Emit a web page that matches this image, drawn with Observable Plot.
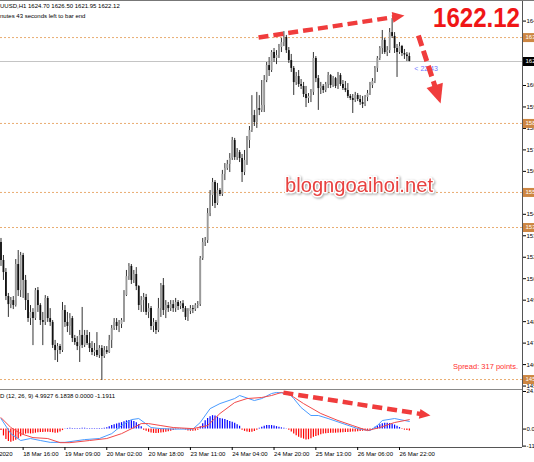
<!DOCTYPE html>
<html>
<head>
<meta charset="utf-8">
<script src="https://cdn.jsdelivr.net/npm/d3@7"></script>
<script src="https://cdn.jsdelivr.net/npm/@observablehq/plot@0.6"></script>
<style>
html,body{margin:0;padding:0;background:#fff;}
#wrap{position:relative;width:534px;height:462px;overflow:hidden;background:#fff;}
#wrap svg{position:absolute;left:0;}
g[aria-label="annot"]{filter:drop-shadow(1.5px 2px 1.2px rgba(0,0,0,0.35));}
</style>
</head>
<body>
<div id="wrap"></div>
<script>
// ---------- DATA (XAUUSD H1) ----------
const open = [1527.7,1518.3,1512.0,1499.5,1495.3,1497.4,1494.8,1516.2,1502.6,1520.9,1507.9,1497.4,1488.0,1491.2,1488.0,1502.6,1494.8,1487.0,1486.0,1498.5,1488.0,1486.0,1474.0,1471.3,1473.4,1471.3,1492.2,1486.0,1483.9,1488.0,1477.6,1475.5,1473.4,1479.2,1474.0,1479.2,1475.0,1472.4,1470.3,1471.3,1468.7,1472.4,1468.2,1471.3,1470.3,1476.6,1482.8,1486.0,1483.9,1484.9,1487.0,1500.0,1509.9,1515.2,1507.9,1511.0,1504.7,1494.8,1497.4,1499.0,1491.2,1493.2,1483.9,1486.0,1481.8,1493.2,1505.2,1492.2,1494.8,1493.2,1495.3,1493.2,1496.4,1494.3,1495.8,1493.2,1488.6,1491.7,1493.2,1492.7,1494.8,1495.3,1519.3,1527.7,1528.7,1542.8,1552.2,1559.0,1548.0,1554.8,1552.7,1563.2,1566.3,1568.4,1571.5,1580.9,1572.0,1574.6,1571.5,1564.2,1570.5,1580.9,1586.1,1593.9,1590.3,1597.6,1596.6,1599.2,1612.2,1620.0,1617.4,1626.8,1623.7,1625.2,1629.4,1632.0,1634.6,1627.8,1622.6,1618.5,1611.1,1614.3,1610.1,1609.1,1604.9,1602.8,1603.9,1606.0,1623.7,1613.2,1608.0,1609.1,1607.0,1610.1,1614.8,1609.6,1613.2,1609.1,1614.8,1610.1,1608.0,1607.0,1603.9,1602.8,1601.8,1604.4,1602.3,1600.7,1599.7,1603.3,1605.4,1609.6,1611.7,1618.5,1623.7,1628.9,1633.1,1626.8,1627.8,1637.2,1635.2,1628.9,1626.8,1629.9,1626.3,1625.5,1624.70];
const high = [1529.8,1520.9,1514.1,1501.1,1499.0,1499.5,1518.8,1523.5,1522.5,1522.0,1510.5,1501.1,1494.8,1493.2,1503.7,1504.2,1495.8,1491.2,1500.0,1499.5,1493.2,1487.0,1476.6,1475.0,1474.5,1496.4,1494.8,1491.2,1490.6,1489.1,1479.2,1478.6,1481.8,1493.8,1481.8,1481.8,1480.7,1476.0,1475.0,1480.7,1473.9,1473.9,1473.4,1473.4,1479.2,1484.4,1488.0,1488.0,1487.0,1488.0,1502.6,1513.1,1516.7,1516.2,1513.1,1514.6,1505.2,1499.5,1501.1,1500.6,1495.8,1494.3,1488.0,1487.0,1498.5,1506.3,1508.9,1497.4,1496.4,1497.4,1497.4,1498.5,1497.4,1496.9,1497.4,1494.3,1493.2,1494.8,1494.8,1495.8,1496.9,1520.4,1529.8,1530.3,1545.4,1554.8,1561.1,1560.0,1558.5,1555.8,1565.3,1568.9,1570.5,1574.1,1582.5,1582.0,1576.7,1575.7,1573.6,1575.7,1583.0,1588.2,1604.3,1596.6,1606.0,1604.3,1612.2,1614.8,1621.6,1624.2,1627.8,1628.9,1627.8,1631.0,1634.1,1637.7,1635.7,1629.4,1625.8,1619.5,1616.4,1617.4,1612.7,1611.2,1609.1,1605.4,1607.5,1626.8,1624.7,1614.8,1611.2,1610.1,1611.2,1616.4,1615.3,1614.3,1613.8,1616.4,1615.8,1612.2,1611.7,1610.6,1604.9,1604.9,1606.0,1605.4,1604.4,1603.9,1604.4,1607.0,1611.2,1613.2,1619.5,1624.7,1629.9,1638.3,1634.1,1629.9,1639.3,1644.5,1637.2,1631.0,1632.0,1630.5,1628.4,1626.8,1626.50];
const low = [1515.2,1507.9,1497.4,1488.6,1493.2,1492.7,1494.0,1499.5,1499.0,1498.5,1492.2,1486.0,1484.4,1473.9,1487.0,1491.2,1484.4,1473.9,1484.4,1486.0,1483.9,1472.4,1466.1,1465.1,1469.3,1470.3,1483.4,1480.7,1479.2,1475.5,1474.0,1471.3,1465.1,1472.4,1472.9,1474.0,1470.3,1468.7,1468.2,1467.7,1467.2,1455.7,1467.2,1469.3,1469.8,1472.4,1481.8,1481.8,1480.7,1482.8,1486.0,1499.5,1507.9,1505.8,1506.3,1502.6,1492.2,1491.2,1491.2,1489.6,1488.0,1481.8,1480.7,1479.7,1480.7,1488.6,1489.6,1488.0,1491.2,1491.7,1491.2,1491.2,1492.2,1492.7,1491.2,1487.0,1486.5,1490.1,1490.6,1491.7,1493.2,1494.3,1518.3,1525.6,1527.2,1541.2,1546.5,1545.4,1547.0,1551.7,1551.7,1560.0,1565.3,1564.2,1570.5,1570.5,1570.5,1569.4,1559.0,1562.6,1567.9,1576.7,1585.1,1588.2,1587.2,1593.9,1595.5,1595.5,1611.1,1614.3,1616.4,1621.6,1620.5,1623.7,1626.8,1629.9,1626.3,1621.1,1616.4,1604.4,1609.6,1608.6,1607.5,1603.3,1598.1,1600.2,1600.7,1604.4,1611.1,1596.6,1604.9,1605.4,1605.9,1608.0,1608.0,1608.6,1608.0,1607.5,1609.1,1607.0,1605.9,1602.8,1601.8,1595.0,1600.7,1601.2,1599.2,1597.6,1598.6,1601.2,1604.4,1608.0,1610.6,1616.4,1622.6,1625.8,1625.8,1624.7,1626.3,1634.1,1626.3,1613.8,1625.8,1624.7,1623.2,1622.1,1621.95];
const close = [1518.3,1512.0,1499.5,1495.3,1497.4,1494.8,1516.2,1502.6,1520.9,1507.9,1497.4,1488.0,1491.2,1488.0,1502.6,1494.8,1487.0,1486.0,1498.5,1488.0,1486.0,1474.0,1471.3,1473.4,1471.3,1492.2,1486.0,1483.9,1488.0,1477.6,1475.5,1473.4,1479.2,1474.0,1479.2,1475.0,1472.4,1470.3,1471.3,1468.7,1472.4,1468.2,1471.3,1470.3,1476.6,1482.8,1486.0,1483.9,1484.9,1487.0,1500.0,1509.9,1515.2,1507.9,1511.0,1504.7,1494.8,1497.4,1499.0,1491.2,1493.2,1483.9,1486.0,1481.8,1493.2,1505.2,1492.2,1494.8,1493.2,1495.3,1493.2,1496.4,1494.3,1495.8,1493.2,1488.6,1491.7,1493.2,1492.7,1494.8,1495.3,1519.3,1527.7,1528.7,1542.8,1552.2,1559.0,1548.0,1554.8,1552.7,1563.2,1566.3,1568.4,1571.5,1580.9,1572.0,1574.6,1571.5,1564.2,1570.5,1580.9,1586.1,1593.9,1590.3,1597.6,1596.6,1599.2,1612.2,1620.0,1617.4,1626.8,1623.7,1625.2,1629.4,1632.0,1634.6,1627.8,1622.6,1618.5,1611.1,1614.3,1610.1,1609.1,1604.9,1602.8,1603.9,1606.0,1623.7,1613.2,1608.0,1609.1,1607.0,1610.1,1614.8,1609.6,1613.2,1609.1,1614.8,1610.1,1608.0,1607.0,1603.9,1602.8,1601.8,1604.4,1602.3,1600.7,1599.7,1603.3,1605.4,1609.6,1611.7,1618.5,1623.7,1628.9,1633.1,1626.8,1627.8,1637.2,1635.2,1628.9,1626.8,1629.9,1626.3,1625.5,1624.7,1622.12];

// MACD histogram (one value per bar)
const histogram = [-1.0,-4.5,-6.8,-8.2,-8.7,-8.0,-7.3,-6.5,-5.0,-3.8,-3.3,-3.0,-3.2,-3.0,-2.7,-2.4,-2.2,-2.2,-2.1,-2.1,-2.2,-2.4,-2.8,-2.6,-2.0,-1.0,
 0.2,0.4,0.5,0.4,0.3,0.3,0.4,0.5,0.5,0.4,0.3,0.3,0.3,0.3,0.4,0.3,0.5,0.8,
 1.5,2.3,2.9,3.4,3.8,4.2,4.8,5.4,5.6,5.4,5.0,4.2,3.0,1.5,
 -0.8,-1.5,-2.1,-2.6,-2.8,-2.9,-2.8,-2.6,-2.4,-2.1,-1.8,-1.4,-1.0,
 -0.5,-0.3,-0.2,-0.3,-0.6,
 -1.2,-1.4,-1.5,-1.3,-0.8,
 1.5,3.5,5.5,7.0,8.0,8.8,8.5,7.8,7.0,6.6,6.2,5.6,5.0,4.5,3.8,2.8,1.8,
 -0.8,-1.5,-2.0,-2.2,-2.1,-1.6,-0.8,
 0.5,1.2,1.8,2.3,2.4,2.3,2.0,1.6,1.2,0.8,0.5,0.2,
 -0.8,-2.0,-3.3,-4.3,-5.4,-6.0,-6.6,-7.1,-7.0,-6.3,-5.4,-4.8,-4.3,-3.8,-3.3,-3.1,-2.9,-2.8,-2.8,-2.7,-2.6,-2.5,-2.4,-2.3,-2.2,-2.1,-2.0,-1.9,-1.8,-1.6,-1.4,-1.2,-1.0,-0.7,
 0.3,1.2,2.0,2.9,3.5,3.8,3.8,3.6,3.2,2.6,1.8,1.0,
 -0.3,-0.7,-1.0,-1.1911];
// MACD main line (light blue) and signal line (red), read at bar indices
const macdIdx = [0,4,8,12,16,20,26,34,40,45,49,53,56,61,65,70,78,81,85,89,95,97,103,106,110,112,117,119,122,126,129,133,139,145,150,153,155,160,166];
const macdVal = [6.9,-3.0,-7.5,-6.2,-7.5,-8.7,-8.7,-6.9,-6.2,-3.0,2.3,6.2,6.9,1.0,0.3,0,0,4.3,13.4,16.7,20.0,22.0,18.7,20.0,23.3,24.0,23.3,20.0,14.1,8.9,8.9,6.9,3.6,0.3,-1.0,2.3,5.6,6.9,4.9927];
const sigIdx = [0,4,8,13,19,24,28,36,43,49,54,57,60,65,70,78,84,89,95,100,106,110,114,118,123,130,137,143,149,154,160,166];
const sigVal = [7.5,1.0,-3.0,-5.6,-6.2,-8.9,-8.9,-7.5,-6.2,-3.0,1.0,3.6,3.6,2.3,1.0,0.3,2.3,10.2,17.4,20.0,20.7,22.0,24.0,22.0,16.7,10.2,5.6,2.3,-1.0,1.0,4.3,6.1838];

// axes (grid labels hidden behind price boxes are left out, as in the terminal)
const yTicks = [1643.20,1609.60,1598.40,1587.20,1576.00,1564.80,1542.40,1531.20,1520.00,1508.80,1497.60,1486.40,1475.20,1464.00,1452.80];
const levels = [1634.6,1589.8,1553.8,1535.5,1456.2];
const macdTicks = [24.6315,0,-11.1627];
const timeIdx = [-9,9,26,43,60,77,94,111,128,145,162];
const timeLabels = ["17 Mar 2020","18 Mar 16:00","19 Mar 09:00","20 Mar 02:00","20 Mar 18:00","23 Mar 11:00","24 Mar 04:00","24 Mar 20:00","25 Mar 13:00","26 Mar 06:00","26 Mar 22:00"];

// annotations (bar index, price / macd value)
const arrowUpTail = [104.7,1634.6], arrowUpTip = [164.0,1646.1];
const arrowDownTail = [169.7,1635.7], arrowDownTip = [178.7,1600.2];
const arrowMacdTail = [114.8,23.9], arrowMacdTip = [174.6,8.9];

// texts
const headerLine1 = "UUSD,H1  1624.70 1626.50 1621.95 1622.12";
const headerLine2 = "nutes 43 seconds left to bar end";
const macdLabel = "D (12, 26, 9) 4.9927 6.1838 0.0000 -1.1911";
const countdown = "< 22:43";
const bigPrice = "1622.12";
const watermark = "blogngoaihoi.net";
const spread = "Spread: 317 points.";

// ---------- DRAW ----------
const FONT = "'Liberation Sans', Arial, sans-serif";
const RED = "#f03c3c";
const wrap = document.getElementById("wrap");
const bars = close.map((c,i)=>({i, o:open[i], h:high[i], l:low[i], c}));
const lastIdx = close.length-1, lastClose = close[lastIdx];
const X_DOMAIN = [-0.2, 212];
const XR = X_DOMAIN[1];
const lblMap = new Map(timeIdx.map((d,i)=>[d,timeLabels[i]]));

const arrowHead = {draw(ctx, size){ const r = Math.sqrt(size/Math.PI); ctx.moveTo(0,0); ctx.lineTo(-r*0.9, r*2); ctx.lineTo(r*0.9, r*2); ctx.closePath(); }};
function arrowMarks(tail, tip, o){
  const d = [{x1:tail[0], y1:tail[1], x2:tip[0], y2:tip[1]}];
  return [
    Plot.arrow(d, {x1:"x1", y1:"y1", x2:"x2", y2:"y2", stroke:RED, strokeWidth:o.w, strokeDasharray:o.dash, headLength:0, insetEnd:o.inset, strokeLinecap:"butt", ariaLabel:"annot"}),
    Plot.dot(d, {x:"x2", y:"y2", symbol:arrowHead, r:o.r, rotate:o.rotate, fill:RED, stroke:"none", ariaLabel:"annot"})
  ];
}

const style = {fontFamily:FONT, fontSize:"6px", background:"transparent", color:"#000", overflow:"hidden"};

const main = Plot.plot({
  width:534, height:389, marginLeft:0, marginRight:12, marginTop:0, marginBottom:0,
  x:{domain:X_DOMAIN, axis:null},
  y:{domain:[1451.0,1653.94], axis:null},
  style,
  marks:[
    Plot.ruleY(levels, {stroke:"#e9ac70", strokeDasharray:"2,2"}),
    Plot.ruleY([lastClose], {stroke:"#c4c4c4"}),
    Plot.ruleX(bars, {x:"i", y1:"l", y2:"h", stroke:"#333", strokeWidth:1}),
    Plot.ruleX(bars.filter(d=>d.c>=d.o), {x:"i", y1:"o", y2:"c", stroke:"#9a9a9a", strokeWidth:1.8}),
    Plot.ruleX(bars.filter(d=>d.c<d.o), {x:"i", y1:"o", y2:"c", stroke:"#111", strokeWidth:1.8}),
    Plot.text([countdown], {x:lastIdx, y:lastClose, text:d=>d, dx:5, dy:7, textAnchor:"start", fill:"#6f74ff", fontSize:7}),
    Plot.ruleX([XR], {stroke:"#555"}),
    Plot.axisY(yTicks, {anchor:"right", tickSize:3, tickPadding:1, tickFormat:d=>d.toFixed(2), fontSize:6}),
    Plot.ruleY(levels, {x1:XR+0.4, x2:XR+8, stroke:"#cd8642", strokeWidth:9}),
    Plot.text(levels, {x:XR, y:d=>d, text:d=>d.toFixed(2), fill:"#fff", textAnchor:"start", dx:3, fontSize:6}),
    Plot.ruleY([lastClose], {x1:XR+0.4, x2:XR+8, stroke:"#000", strokeWidth:9}),
    Plot.text([lastClose], {x:XR, y:d=>d, text:d=>d.toFixed(2), fill:"#fff", textAnchor:"start", dx:3, fontSize:6}),
    ...arrowMarks(arrowUpTail, arrowUpTip, {w:4.5, dash:"10,5", inset:9, r:6, rotate:81}),
    ...arrowMarks(arrowDownTail, arrowDownTip, {w:5, dash:"11,5", inset:15, r:9.5, rotate:162})
  ]
});
main.style.top = "0px";
wrap.appendChild(main);

const histData = histogram.map((v,i)=>({i,v}));
const macdPts = macdIdx.map((d,i)=>({i:d, v:macdVal[i]}));
const sigPts = sigIdx.map((d,i)=>({i:d, v:sigVal[i]}));
const macd = Plot.plot({
  width:534, height:73, marginLeft:0, marginRight:12, marginTop:0, marginBottom:15,
  x:{domain:X_DOMAIN, axis:null},
  y:{domain:[-12.08,25.94], axis:null},
  style,
  marks:[
    Plot.ruleX(histData.filter(d=>d.v>=0), {x:"i", y1:0, y2:"v", stroke:"#0000ff", strokeWidth:1.2}),
    Plot.ruleX(histData.filter(d=>d.v<0), {x:"i", y1:0, y2:"v", stroke:"#ff0000", strokeWidth:1.2}),
    Plot.line(macdPts, {x:"i", y:"v", stroke:"#4a9cff", strokeWidth:1}),
    Plot.line(sigPts, {x:"i", y:"v", stroke:"#f24a4a", strokeWidth:1}),
    Plot.ruleY([25.94], {stroke:"#888"}),
    Plot.ruleY([-12.08], {stroke:"#555"}),
    Plot.ruleX([XR], {stroke:"#555"}),
    Plot.axisY(macdTicks, {anchor:"right", tickSize:3, tickPadding:1, tickFormat:d=>d===0?"0.00":d.toFixed(4), fontSize:6}),
    Plot.axisX(timeIdx, {anchor:"bottom", tickSize:3, tickPadding:1, textAnchor:"start", tickFormat:d=>lblMap.get(d), fontSize:6}),
    ...arrowMarks(arrowMacdTail, arrowMacdTip, {w:4.5, dash:"10,5", inset:8, r:5.5, rotate:99})
  ]
});
macd.style.top = "389px";
wrap.appendChild(macd);

// overlay texts
const ov = d3.select(wrap).append("svg").attr("width",534).attr("height",462)
  .style("top","0px").style("pointer-events","none").style("font-family",FONT);
ov.append("line").attr("x1",0).attr("x2",534).attr("y1",0.5).attr("y2",0.5).attr("stroke","#777");
ov.append("text").attr("x",0).attr("y",8).attr("font-size",6).text(headerLine1);
ov.append("text").attr("x",0).attr("y",18).attr("font-size",6).text(headerLine2);
ov.append("text").attr("x",0).attr("y",398).attr("font-size",6).text(macdLabel);
ov.append("text").attr("x",433).attr("y",27).attr("font-size",27).attr("font-weight","bold")
  .attr("fill","#f01616").attr("textLength",87).attr("lengthAdjust","spacingAndGlyphs").text(bigPrice);
ov.append("text").attr("x",285).attr("y",192).attr("font-size",21).attr("fill","#e8413f")
  .attr("stroke","#fff").attr("stroke-width",3).attr("paint-order","stroke").attr("stroke-linejoin","round")
  .attr("textLength",148).attr("lengthAdjust","spacingAndGlyphs")
  .style("filter","drop-shadow(1px 1px 1px rgba(0,0,0,0.35))").text(watermark);
ov.append("text").attr("x",518).attr("y",369).attr("font-size",7.5).attr("text-anchor","end").attr("fill","#ff3030").text(spread);
</script>
</body>
</html>
